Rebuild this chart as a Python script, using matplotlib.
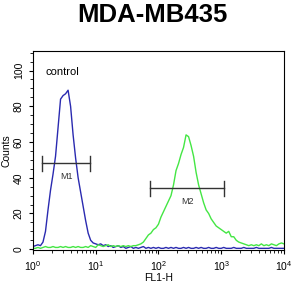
import numpy as np
import matplotlib
matplotlib.use("Agg")
import matplotlib.pyplot as plt
from matplotlib.ticker import MultipleLocator

plt.rcParams['font.family'] = ['Liberation Sans', 'DejaVu Sans']

title = "MDA-MB435"
x_label = "FL1-H"
y_label = "Counts"

# channel positions in decades (log10 of FL1-H), step 0.04
log_channels = [i * 0.04 for i in range(101)]

control_counts = [
    1.5, 2, 2.5, 2, 4, 10, 22, 33, 42, 52,
    68, 84, 86, 87, 89, 80, 64, 51, 40, 32,
    24, 16, 9, 5, 3.5, 3, 2.5, 3, 2, 2.5,
    1.5, 2, 1, 1.5, 2, 1, 1.5, 0.5, 1, 1.5,
    0.5, 1, 0.5, 1, 1.5, 0.5, 1, 0.5, 1, 0.5,
    1, 0.5, 0.5, 1, 0.5, 1, 0.5, 1, 0.5, 0.5,
    1, 0.5, 1, 0.5, 0.5, 1, 0.5, 1, 0.5, 0.5,
    1, 0.5, 0.5, 1, 0.5, 0.5, 1, 0.5, 0.5, 0.5,
    1, 0.5, 0.5, 0.5, 1, 0.5, 0.5, 0.5, 0.5, 1,
    0.5, 0.5, 0.5, 0.5, 0.5, 1, 0.5, 0.5, 0.5, 0.5,
    0.5,
]

sample_counts = [
    0.5, 0.5, 1, 0.5, 1, 1.5, 1, 1, 1.5, 1,
    1, 1.5, 1, 1.5, 1, 1, 1.5, 1, 1.5, 1,
    1, 1.5, 1, 2, 1.5, 1, 2.5, 2, 1.5, 2,
    2.5, 1.5, 2, 1.5, 2, 1.5, 2, 1.5, 2, 1.5,
    2, 2, 2.5, 3, 4, 6, 8, 9, 11, 12,
    14, 18, 21, 24, 27, 30, 36, 44, 48, 53,
    57, 64, 63, 58, 52, 43, 36, 31, 26, 22,
    20, 17, 15, 13, 12, 11, 10, 9, 10, 7,
    7, 5, 4, 3.5, 3, 2.5, 2, 2.5, 2, 2.5,
    2, 3, 2, 2.5, 2, 3, 2.5, 2, 3, 3.5,
    3,
]

# marker gates: (label, left, right, height)
gates = [("M1", 1.38, 8.2, 48), ("M2", 74, 1100, 34)]

fig = plt.figure(figsize=(3.05, 2.96), dpi=100)
ax = fig.add_axes([0.108, 0.155, 0.823, 0.673])

fl1 = 10 ** np.array(log_channels)
ax.plot(fl1, control_counts, color='#2a2ab0', linewidth=1.0)
ax.plot(fl1, sample_counts, color='#44e644', linewidth=1.0)

for label, left, right, height in gates:
    ax.plot([left, right], [height, height], color='#333333', linewidth=1.0)
    ax.plot([left, left], [height - 4, height + 4], color='#333333', linewidth=1.0)
    ax.plot([right, right], [height - 4, height + 4], color='#333333', linewidth=1.0)
    ax.text(np.sqrt(left * right), height - 5, label, ha='center', va='top',
            fontsize=6.5, color='#333333')

ax.text(0.05, 0.92, "control", transform=ax.transAxes, fontsize=8, va='top')

ax.set_xscale('log')
ax.set_xlim(1, 1e4)
ax.set_ylim(-0.5, 111)
ax.set_yticks([0, 20, 40, 60, 80, 100])
ax.set_xticks([1, 10, 100, 1000, 10000])
ax.yaxis.set_minor_locator(MultipleLocator(5))
ax.tick_params(axis='both', labelsize=7.5, length=3, width=0.8, direction='out')
ax.tick_params(axis='both', which='minor', length=2, width=0.6)
for lab in ax.get_yticklabels():
    lab.set_rotation(90)
    lab.set_va('center')

ax.set_xlabel(x_label, fontsize=7.5, labelpad=0)
ax.set_ylabel(y_label, fontsize=7.5, labelpad=2)
fig.suptitle(title, fontsize=18.5, fontweight='bold', y=0.99)

fig.savefig("out.png", dpi=100)
